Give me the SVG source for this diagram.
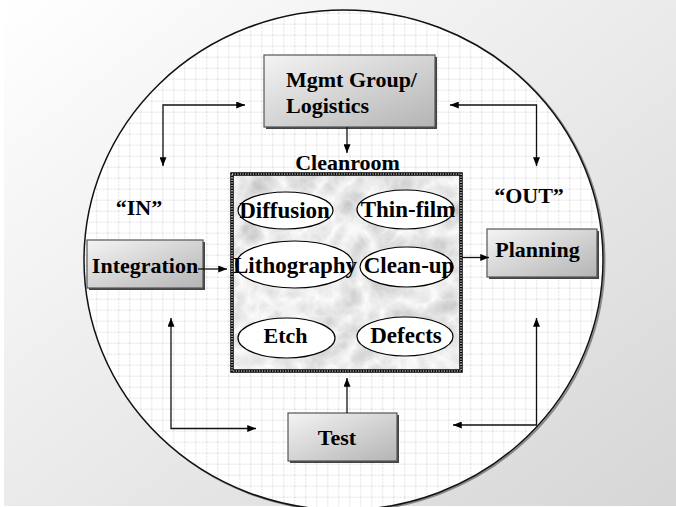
<svg xmlns="http://www.w3.org/2000/svg" width="676" height="507" viewBox="0 0 676 507">
  <defs>
    <linearGradient id="bg" x1="0" y1="0" x2="1" y2="1">
      <stop offset="0" stop-color="#ffffff"/>
      <stop offset="1" stop-color="#d6d6d6"/>
    </linearGradient>
    <linearGradient id="boxfill" x1="0" y1="0" x2="1" y2="1">
      <stop offset="0" stop-color="#f4f4f4"/>
      <stop offset="1" stop-color="#b4b4b4"/>
    </linearGradient>
    <pattern id="grid" x="8.3" y="1.7" width="11" height="11" patternUnits="userSpaceOnUse">
      <path d="M0 0.5H11M0.5 0V11" stroke="#e2e2e2" stroke-width="1" stroke-dasharray="2 1.2" fill="none"/>
    </pattern>
    <filter id="marble" x="0" y="0" width="100%" height="100%">
      <feTurbulence type="turbulence" baseFrequency="0.03 0.03" numOctaves="4" seed="7" result="t"/>
      <feColorMatrix in="t" type="matrix" values="-0.55 0 0 0 0.99  -0.55 0 0 0 0.99  -0.55 0 0 0 0.99  0 0 0 0 1"/>
    </filter>
    <marker id="ah" viewBox="0 0 10 8" refX="10" refY="4" markerWidth="9" markerHeight="7" markerUnits="userSpaceOnUse" orient="auto-start-reverse">
      <path d="M0 0L10 4L0 8Z" fill="#000"/>
    </marker>
    <style>
      .lbl { font-family: "Liberation Serif", "DejaVu Serif", "Times New Roman", serif; font-weight: bold; fill: #000; }
      .box { fill: url(#boxfill); stroke: #555; stroke-width: 1.2; }
      .shadow { fill: #444; }
      .ov { fill: #fff; stroke: #000; stroke-width: 1.2; }
      .con { fill: none; stroke: #111; stroke-width: 1.3; }
    </style>
  </defs>

  <!-- background -->
  <rect x="0" y="0" width="676" height="507" fill="#ffffff"/>
  <rect x="4" y="0" width="672" height="506" fill="url(#bg)"/>

  <!-- outer ellipse -->
  <g id="outer">
    <ellipse cx="345" cy="261" rx="259.5" ry="250" fill="none" stroke="#888" stroke-width="2"/>
    <ellipse cx="343.5" cy="260" rx="259.5" ry="250" fill="#ffffff"/>
    <ellipse cx="343.5" cy="260" rx="259.5" ry="250" fill="url(#grid)" stroke="#111" stroke-width="1.5"/>
  </g>

  <!-- cleanroom -->
  <g id="cleanroom">
    <text class="lbl" x="347.5" y="170" text-anchor="middle" style="font-size:22px">Cleanroom</text>
    <rect x="231" y="173" width="231" height="199" fill="#ddd" filter="url(#marble)"/>
    <rect x="232" y="174" width="229" height="197" fill="none" stroke="#000" stroke-width="3.5"/>
    <rect x="232" y="174" width="229" height="197" fill="none" stroke="#fff" stroke-width="1.2" stroke-dasharray="1.3 1.3"/>
  </g>

  <g id="diffusion">
    <ellipse class="ov" cx="285.5" cy="210.5" rx="47.5" ry="18.5"/>
    <text class="lbl" x="284.5" y="218" text-anchor="middle" style="font-size:23px">Diffusion</text>
  </g>
  <g id="thinfilm">
    <ellipse class="ov" cx="405.5" cy="209.5" rx="48.5" ry="19.5"/>
    <text class="lbl" x="408" y="217" text-anchor="middle" style="font-size:23px">Thin-film</text>
  </g>
  <g id="lithography">
    <ellipse class="ov" cx="294.5" cy="264.5" rx="58.5" ry="23.5"/>
    <text class="lbl" x="295" y="273" text-anchor="middle" style="font-size:23px">Lithography</text>
  </g>
  <g id="cleanup">
    <ellipse class="ov" cx="406.5" cy="267" rx="46.5" ry="20"/>
    <text class="lbl" x="409" y="273" text-anchor="middle" style="font-size:23px">Clean-up</text>
  </g>
  <g id="etch">
    <ellipse class="ov" cx="286.5" cy="338" rx="48.5" ry="20"/>
    <text class="lbl" x="285.5" y="343" text-anchor="middle" style="font-size:22px">Etch</text>
  </g>
  <g id="defects">
    <ellipse class="ov" cx="405" cy="336.5" rx="48" ry="19.5"/>
    <text class="lbl" x="406" y="343" text-anchor="middle" style="font-size:23px">Defects</text>
  </g>

  <!-- boxes -->
  <g id="mgmt">
    <rect class="shadow" x="266" y="57" width="171" height="72"/>
    <rect class="box" x="264" y="55" width="171" height="72"/>
    <text class="lbl" x="286" y="87" style="font-size:22px">Mgmt Group/</text>
    <text class="lbl" x="286" y="113" style="font-size:22px">Logistics</text>
  </g>
  <g id="integration">
    <rect class="shadow" x="89" y="242" width="116" height="48"/>
    <rect class="box" x="87" y="240" width="116" height="48"/>
    <text class="lbl" x="145" y="273" text-anchor="middle" style="font-size:22px">Integration</text>
  </g>
  <g id="planning">
    <rect class="shadow" x="489" y="231" width="110" height="48"/>
    <rect class="box" x="487" y="229" width="110" height="48"/>
    <text class="lbl" x="537.5" y="257" text-anchor="middle" style="font-size:22px">Planning</text>
  </g>
  <g id="test">
    <rect class="shadow" x="290" y="415" width="109" height="48"/>
    <rect class="box" x="288" y="413" width="109" height="48"/>
    <text class="lbl" x="337" y="445" text-anchor="middle" style="font-size:22px">Test</text>
  </g>

  <!-- labels -->
  <g id="in-label">
    <text class="lbl" x="139" y="215" text-anchor="middle" style="font-size:22px">“IN”</text>
  </g>
  <g id="out-label">
    <text class="lbl" x="529" y="203" text-anchor="middle" style="font-size:22px">“OUT”</text>
  </g>

  <!-- connectors -->
  <g id="connectors">
    <path class="con" d="M245 105H163V166" marker-start="url(#ah)" marker-end="url(#ah)"/>
    <path class="con" d="M450 105H536.5V166" marker-start="url(#ah)" marker-end="url(#ah)"/>
    <path class="con" d="M347 127V153" marker-end="url(#ah)"/>
    <path class="con" d="M198 269H227" marker-end="url(#ah)"/>
    <path class="con" d="M462 257.5H489" marker-end="url(#ah)"/>
    <path class="con" d="M347 413V378" marker-end="url(#ah)"/>
    <path class="con" d="M171 318V428.5H256" marker-start="url(#ah)" marker-end="url(#ah)"/>
    <path class="con" d="M536.5 318V425H453" marker-start="url(#ah)" marker-end="url(#ah)"/>
  </g>
</svg>
